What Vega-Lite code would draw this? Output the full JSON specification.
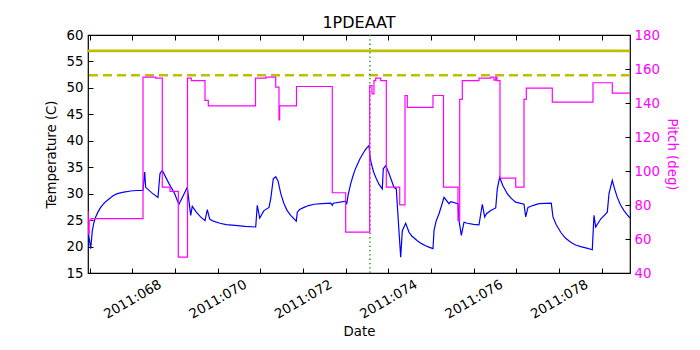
{
  "$schema": "https://vega.github.io/schema/vega-lite/v6.json",
  "autosize": {"type": "none"},
  "padding": {"left": 88, "top": 35, "right": 70, "bottom": 77},
  "width": 542,
  "height": 238,
  "background": "white",
  "title": {"text": "1PDEAAT", "font": "DejaVu Sans", "fontSize": 16, "fontWeight": "normal", "color": "black", "offset": -3, "anchor": "middle"},
  "config": {
    "view": {"stroke": "black", "strokeWidth": 1.2},
    "font": "DejaVu Sans",
    "axis": {"labelFont": "DejaVu Sans", "titleFont": "DejaVu Sans", "labelFontSize": 13.3, "titleFontSize": 13.3, "titleFontWeight": "normal", "labelColor": "black", "titleColor": "black", "tickColor": "black", "grid": false, "domain": false, "labelFlush": false, "labelOverlap": false, "tickSize": -5, "tickWidth": 1}
  },
  "datasets": {
    "temp": [
      {"day": 66.962, "temp": 23.0}, {"day": 67.025, "temp": 19.6}, {"day": 67.063, "temp": 23.0}, {"day": 67.10, "temp": 24.5},
      {"day": 67.142, "temp": 25.6}, {"day": 67.20, "temp": 26.6}, {"day": 67.259, "temp": 27.4}, {"day": 67.35, "temp": 28.3},
      {"day": 67.454, "temp": 29.0}, {"day": 67.55, "temp": 29.6}, {"day": 67.648, "temp": 30.0}, {"day": 67.80, "temp": 30.3},
      {"day": 67.963, "temp": 30.5}, {"day": 68.10, "temp": 30.6}, {"day": 68.251, "temp": 30.6}, {"day": 68.291, "temp": 34.1},
      {"day": 68.314, "temp": 31.2}, {"day": 68.45, "temp": 30.2}, {"day": 68.602, "temp": 29.3},
      {"day": 68.649, "temp": 33.8}, {"day": 68.703, "temp": 34.4}, {"day": 68.860, "temp": 31.9}, {"day": 68.994, "temp": 30.0},
      {"day": 69.041, "temp": 29.0}, {"day": 69.094, "temp": 28.0}, {"day": 69.289, "temp": 31.2}, {"day": 69.369, "temp": 25.9},
      {"day": 69.406, "temp": 27.6}, {"day": 69.50, "temp": 26.5}, {"day": 69.60, "temp": 25.6}, {"day": 69.704, "temp": 24.9},
      {"day": 69.758, "temp": 27.0}, {"day": 69.814, "temp": 25.2}, {"day": 69.90, "temp": 24.8},
      {"day": 70.055, "temp": 24.4}, {"day": 70.20, "temp": 24.15}, {"day": 70.407, "temp": 24.0}, {"day": 70.65, "temp": 23.8},
      {"day": 70.892, "temp": 23.7}, {"day": 70.929, "temp": 27.8},
      {"day": 70.986, "temp": 25.4}, {"day": 71.086, "temp": 26.8}, {"day": 71.204, "temp": 27.4}, {"day": 71.244, "temp": 29.0},
      {"day": 71.304, "temp": 32.8}, {"day": 71.361, "temp": 33.2}, {"day": 71.415, "temp": 32.4}, {"day": 71.48, "temp": 30.0},
      {"day": 71.555, "temp": 28.1}, {"day": 71.63, "temp": 26.8},
      {"day": 71.712, "temp": 25.9}, {"day": 71.843, "temp": 24.8}, {"day": 71.867, "temp": 26.5}, {"day": 71.92, "temp": 27.0},
      {"day": 72.024, "temp": 27.4}, {"day": 72.13, "temp": 27.75},
      {"day": 72.258, "temp": 28.0}, {"day": 72.45, "temp": 28.1}, {"day": 72.650, "temp": 28.2}, {"day": 72.687, "temp": 27.8}, {"day": 72.711, "temp": 28.2},
      {"day": 73.001, "temp": 28.6}, {"day": 73.025, "temp": 28.0}, {"day": 73.06, "temp": 29.8}, {"day": 73.119, "temp": 31.9},
      {"day": 73.17, "temp": 33.3}, {"day": 73.219, "temp": 34.5}, {"day": 73.28, "temp": 35.6},
      {"day": 73.336, "temp": 36.6}, {"day": 73.40, "temp": 37.5}, {"day": 73.454, "temp": 38.2}, {"day": 73.50, "temp": 38.7},
      {"day": 73.547, "temp": 39.1}, {"day": 73.571, "temp": 36.9}, {"day": 73.60, "temp": 35.8},
      {"day": 73.624, "temp": 35.0}, {"day": 73.66, "temp": 34.0}, {"day": 73.704, "temp": 33.1}, {"day": 73.78, "temp": 31.8},
      {"day": 73.859, "temp": 30.9}, {"day": 73.882, "temp": 34.7},
      {"day": 73.939, "temp": 35.3}, {"day": 74.016, "temp": 33.8}, {"day": 74.133, "temp": 31.2}, {"day": 74.187, "temp": 30.9},
      {"day": 74.234, "temp": 24.9}, {"day": 74.290, "temp": 18.0}, {"day": 74.328, "temp": 23.0}, {"day": 74.407, "temp": 24.4},
      {"day": 74.485, "temp": 22.7}, {"day": 74.55, "temp": 22.0}, {"day": 74.679, "temp": 21.1}, {"day": 74.77, "temp": 20.6},
      {"day": 74.860, "temp": 20.2}, {"day": 74.95, "temp": 19.9}, {"day": 75.047, "temp": 19.6},
      {"day": 75.071, "temp": 23.0}, {"day": 75.12, "temp": 24.8}, {"day": 75.188, "temp": 26.2}, {"day": 75.25, "temp": 27.8},
      {"day": 75.305, "temp": 29.3}, {"day": 75.422, "temp": 28.1},
      {"day": 75.462, "temp": 28.5}, {"day": 75.633, "temp": 28.1}, {"day": 75.657, "temp": 24.9}, {"day": 75.711, "temp": 22.1},
      {"day": 75.774, "temp": 24.6}, {"day": 75.85, "temp": 24.4}, {"day": 76.0, "temp": 24.2}, {"day": 76.125, "temp": 24.1},
      {"day": 76.203, "temp": 28.0}, {"day": 76.259, "temp": 25.6}, {"day": 76.30, "temp": 26.2}, {"day": 76.40, "temp": 26.8},
      {"day": 76.517, "temp": 27.3}, {"day": 76.554, "temp": 30.9}, {"day": 76.610, "temp": 33.1}, {"day": 76.68, "temp": 31.6},
      {"day": 76.788, "temp": 30.0}, {"day": 76.88, "temp": 29.1},
      {"day": 76.985, "temp": 28.4}, {"day": 77.180, "temp": 28.0}, {"day": 77.220, "temp": 25.6}, {"day": 77.273, "temp": 27.4},
      {"day": 77.40, "temp": 27.8}, {"day": 77.531, "temp": 28.1}, {"day": 77.819, "temp": 28.2}, {"day": 77.859, "temp": 25.6},
      {"day": 77.93, "temp": 24.2}, {"day": 78.040, "temp": 22.7}, {"day": 78.15, "temp": 21.6},
      {"day": 78.274, "temp": 20.8}, {"day": 78.39, "temp": 20.3}, {"day": 78.508, "temp": 20.0}, {"day": 78.65, "temp": 19.7},
      {"day": 78.780, "temp": 19.4}, {"day": 78.820, "temp": 25.9},
      {"day": 78.860, "temp": 23.7}, {"day": 78.977, "temp": 25.2}, {"day": 79.132, "temp": 26.5}, {"day": 79.172, "temp": 30.0},
      {"day": 79.249, "temp": 32.5}, {"day": 79.30, "temp": 31.0}, {"day": 79.366, "temp": 29.3}, {"day": 79.44, "temp": 27.9},
      {"day": 79.523, "temp": 26.8}, {"day": 79.60, "temp": 26.0}, {"day": 79.664, "temp": 25.4}
    ],
    "pitch": [
      {"day": 66.962, "pitch": 76}, {"day": 66.966, "pitch": 63}, {"day": 66.99, "pitch": 71}, {"day": 67.03, "pitch": 72},
      {"day": 68.251, "pitch": 155.2}, {"day": 68.548, "pitch": 154.6}, {"day": 68.703, "pitch": 90.5}, {"day": 68.884, "pitch": 88},
      {"day": 69.078, "pitch": 49.3}, {"day": 69.294, "pitch": 154.6}, {"day": 69.383, "pitch": 153.2}, {"day": 69.704, "pitch": 141.5},
      {"day": 69.781, "pitch": 138.3}, {"day": 70.887, "pitch": 154.6}, {"day": 71.133, "pitch": 155.2}, {"day": 71.361, "pitch": 149.3},
      {"day": 71.438, "pitch": 130.1}, {"day": 71.454, "pitch": 138.3}, {"day": 71.848, "pitch": 149.7}, {"day": 72.687, "pitch": 87.2},
      {"day": 73.001, "pitch": 64.0}, {"day": 73.564, "pitch": 150.3}, {"day": 73.617, "pitch": 145.4}, {"day": 73.664, "pitch": 153.2},
      {"day": 73.704, "pitch": 154.6}, {"day": 73.821, "pitch": 153.2}, {"day": 73.953, "pitch": 90.5}, {"day": 74.267, "pitch": 80.1},
      {"day": 74.391, "pitch": 144.4}, {"day": 74.445, "pitch": 137.4}, {"day": 75.047, "pitch": 144.4}, {"day": 75.293, "pitch": 90.5},
      {"day": 75.633, "pitch": 70.9}, {"day": 75.673, "pitch": 142.1}, {"day": 75.734, "pitch": 153.2}, {"day": 76.125, "pitch": 154.6},
      {"day": 76.399, "pitch": 155.2}, {"day": 76.477, "pitch": 153.5}, {"day": 76.517, "pitch": 155.2}, {"day": 76.547, "pitch": 153.2},
      {"day": 76.617, "pitch": 95.8}, {"day": 76.985, "pitch": 90.5}, {"day": 77.180, "pitch": 142.1}, {"day": 77.234, "pitch": 148.7},
      {"day": 77.843, "pitch": 140.5}, {"day": 78.797, "pitch": 151.9}, {"day": 79.249, "pitch": 145.8}, {"day": 79.664, "pitch": 145.8}
    ]
  },
  "layer": [
    {
      "layer": [
        {
          "data": {"name": "temp"},
          "mark": {"type": "line", "color": "#0000ff", "strokeWidth": 1.2, "clip": true},
          "encoding": {
            "x": {"field": "day", "type": "quantitative", "scale": {"domain": [66.962, 79.664], "nice": false, "zero": false},
              "axis": {"orient": "bottom", "values": [67, 68, 69, 70, 71, 72, 73, 74, 75, 76, 77, 78, 79], "tickCount": 30,
                "labelExpr": "datum.value % 2 == 0 ? '2011:0' + datum.value : ''",
                "labelAngle": -30, "labelAlign": "center", "labelBaseline": "middle", "labelPadding": 31,
                "labelOverlap": false, "labelFlush": false, "labelFontSize": 13.3,
                "title": "Date", "titlePadding": 4}},
            "y": {"field": "temp", "type": "quantitative", "scale": {"domain": [15, 60], "nice": false, "zero": false},
              "axis": {"orient": "left", "values": [15, 20, 25, 30, 35, 40, 45, 50, 55, 60], "tickCount": 30, "labelOverlap": false, "labelFlush": false, "labelFontSize": 13.3, "labelPadding": 10, "title": "Temperature (C)", "titlePadding": 8}}
          }
        },
        {
          "data": {"values": [{"limit": 57.0}]},
          "mark": {"type": "rule", "color": "#bfbf00", "strokeWidth": 2.6},
          "encoding": {"y": {"field": "limit", "type": "quantitative"}}
        },
        {
          "data": {"values": [{"limit": 52.4}]},
          "mark": {"type": "rule", "color": "#bfbf00", "strokeWidth": 2.6, "strokeDash": [9, 5]},
          "encoding": {"y": {"field": "limit", "type": "quantitative"}}
        },
        {
          "data": {"values": [{"event": 73.57}]},
          "mark": {"type": "rule", "color": "#008000", "strokeWidth": 1.3, "strokeDash": [1.3, 3]},
          "encoding": {"x": {"field": "event", "type": "quantitative"}}
        }
      ]
    },
    {
      "data": {"name": "pitch"},
      "mark": {"type": "line", "color": "#ff00ff", "strokeWidth": 1.2, "interpolate": "step-after", "clip": true},
      "encoding": {
        "x": {"field": "day", "type": "quantitative",
          "axis": {"orient": "top", "values": [67, 68, 69, 70, 71, 72, 73, 74, 75, 76, 77, 78, 79], "tickCount": 30, "labels": false, "title": null}},
        "y": {"field": "pitch", "type": "quantitative", "scale": {"domain": [40, 180], "nice": false, "zero": false},
          "axis": {"orient": "right", "values": [40, 60, 80, 100, 120, 140, 160, 180], "tickCount": 30, "labelOverlap": false, "labelFlush": false, "labelFontSize": 13.3, "labelPadding": 9, "labelColor": "#ff00ff", "titleColor": "#ff00ff", "title": "Pitch (deg)", "titlePadding": 5}}
      }
    }
  ],
  "resolve": {"scale": {"y": "independent"}, "axis": {"x": "independent"}}
}
